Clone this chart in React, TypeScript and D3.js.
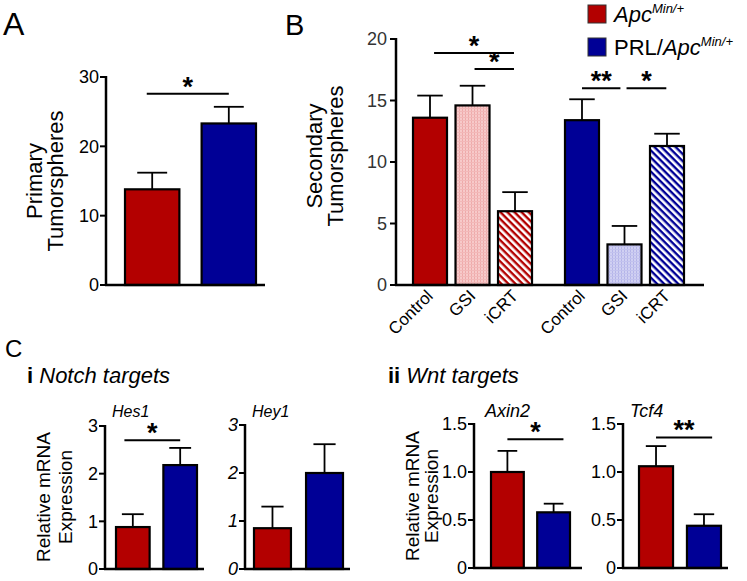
import React from 'react';
import * as d3 from 'd3';

const RED = '#b30000';
const BLUE = '#000096';

// Panel A
const primaryMean = [13.8, 23.3];
const primarySem = [2.4, 2.4];
const primaryTicks = [0, 10, 20, 30];

// Panel B
const conditions = ['Control', 'GSI', 'iCRT'];
const genotypes = ['Apc', 'PRL/Apc'];
const secondaryApc = [13.6, 14.6, 6.0];
const secondaryApcSem = [1.8, 1.6, 1.55];
const secondaryPrl = [13.4, 3.3, 11.3];
const secondaryPrlSem = [1.7, 1.5, 1.0];
const secondaryTicks = [0, 5, 10, 15, 20];

// Panel C
const hes1 = [0.88, 2.18];
const hes1Sem = [0.27, 0.36];
const hey1 = [0.85, 2.0];
const hey1Sem = [0.45, 0.6];
const notchTicks = [0, 1, 2, 3];
const axin2 = [1.0, 0.58];
const axin2Sem = [0.22, 0.09];
const tcf4 = [1.06, 0.44];
const tcf4Sem = [0.21, 0.12];
const wntTicks = [0, 0.5, 1.0, 1.5];

const FONT = "'Liberation Sans', Arial, Helvetica, sans-serif";

type Sig = { a: number; fa: number; b: number; fb: number; y: number; label: string };

const sigA: Sig[] = [{ a: 0, fa: 0.4, b: 1, fb: 0.5, y: 27.6, label: '*' }];
const sigHes1: Sig[] = [{ a: 0, fa: 0.25, b: 1, fb: 0.5, y: 2.7, label: '*' }];
const sigAxin2: Sig[] = [{ a: 0, fa: 0.5, b: 1, fb: 0.8, y: 1.34, label: '*' }];
const sigTcf4: Sig[] = [{ a: 0, fa: 0.5, b: 1, fb: 0.74, y: 1.36, label: '**' }];

function Star({ x, y, label }: { x: number; y: number; label: string }) {
  return (
    <text x={x} y={y + 2} textAnchor="middle" fontSize={27} fontWeight="bold" fontFamily={FONT}>
      {label}
    </text>
  );
}

type SimpleProps = {
  axisX: number; axisEnd: number; yBottom: number; yTop: number;
  barStart: number; barEnd: number; domainMax: number; ticks: number[];
  fmt: (v: number) => string; values: number[]; sems: number[]; fills: string[];
  capFrac: number; sigs: Sig[]; italicTicks?: boolean; tickSize?: number;
};

function SimpleBars(p: SimpleProps) {
  const y = d3.scaleLinear().domain([0, p.domainMax]).range([p.yBottom, p.yTop]);
  const x = d3.scaleBand<number>().domain(d3.range(p.values.length)).range([p.barStart, p.barEnd]).paddingInner(0.29);
  const bw = x.bandwidth();
  return (
    <g>
      {p.values.map((v, i) => {
        const cx = (x(i) as number) + bw / 2;
        const top = y(v + p.sems[i]);
        const cw = bw * p.capFrac;
        return (
          <g key={i}>
            <line x1={cx} x2={cx} y1={y(v)} y2={top} stroke="#000" strokeWidth={1.8} />
            <line x1={cx - cw / 2} x2={cx + cw / 2} y1={top} y2={top} stroke="#000" strokeWidth={1.8} />
            <rect x={x(i)} y={y(v)} width={bw} height={y(0) - y(v)} fill={p.fills[i]} stroke="#000" strokeWidth={2.2} />
          </g>
        );
      })}
      <line x1={p.axisX} x2={p.axisX} y1={y(0) + 1} y2={y(p.domainMax) - 1} stroke="#000" strokeWidth={2.5} />
      <line x1={p.axisX - 1} x2={p.axisEnd} y1={y(0)} y2={y(0)} stroke="#000" strokeWidth={2.5} />
      {p.ticks.map((t) => (
        <g key={t}>
          <line x1={p.axisX - 6} x2={p.axisX} y1={y(t)} y2={y(t)} stroke="#000" strokeWidth={2} />
          <text x={p.axisX - 7} y={y(t)} dy="0.36em" textAnchor="end" fontSize={p.tickSize ?? 18}
            fontStyle={p.italicTicks ? 'italic' : 'normal'} fontFamily={FONT}>{p.fmt(t)}</text>
        </g>
      ))}
      {p.sigs.map((s, k) => {
        const x1 = (x(s.a) as number) + bw * s.fa;
        const x2 = (x(s.b) as number) + bw * s.fb;
        return (
          <g key={k}>
            <line x1={x1} x2={x2} y1={y(s.y)} y2={y(s.y)} stroke="#000" strokeWidth={2} />
            <Star x={(x1 + x2) / 2} y={y(s.y)} label={s.label} />
          </g>
        );
      })}
    </g>
  );
}

function PanelB() {
  const axisX = 396, axisEnd = 704, yBottom = 285, yTop = 39;
  const y = d3.scaleLinear().domain([0, 20]).range([yBottom, yTop]);
  const gx = d3.scaleBand<string>().domain(genotypes).range([413, 684]).paddingInner(0.217);
  const cx = d3.scaleBand<string>().domain(conditions).range([0, gx.bandwidth()]).paddingInner(0.2);
  const bw = cx.bandwidth();
  const fillsApc = [RED, 'url(#dotsPink)', 'url(#hatchRed)'];
  const fillsPrl = [BLUE, 'url(#dotsBlue)', 'url(#hatchBlue)'];
  const data = [
    { g: genotypes[0], vals: secondaryApc, sems: secondaryApcSem, fills: fillsApc },
    { g: genotypes[1], vals: secondaryPrl, sems: secondaryPrlSem, fills: fillsPrl },
  ];
  const bx = (g: string, c: string) => (gx(g) as number) + (cx(c) as number);
  const sigB = [
    { g: genotypes[0], a: 'Control', fa: 0.62, b: 'iCRT', fb: 0.47, y: 18.86, label: '*' },
    { g: genotypes[0], a: 'GSI', fa: 0.56, b: 'iCRT', fb: 0.47, y: 17.56, label: '*' },
    { g: genotypes[1], a: 'Control', fa: 0.5, b: 'GSI', fb: 0.38, y: 16.0, label: '**' },
    { g: genotypes[1], a: 'GSI', fa: 0.56, b: 'iCRT', fb: 0.48, y: 16.0, label: '*' },
  ];
  return (
    <g>
      {data.map((d) => d.vals.map((v, i) => {
        const c = conditions[i];
        const left = bx(d.g, c);
        const mid = left + bw / 2;
        const top = y(v + d.sems[i]);
        const cw = bw * 0.75;
        return (
          <g key={d.g + c}>
            <line x1={mid} x2={mid} y1={y(v)} y2={top} stroke="#000" strokeWidth={1.8} />
            <line x1={mid - cw / 2} x2={mid + cw / 2} y1={top} y2={top} stroke="#000" strokeWidth={1.8} />
            <rect x={left} y={y(v)} width={bw} height={y(0) - y(v)} fill={d.fills[i]} stroke="#000" strokeWidth={2.2} />
            <text transform={`translate(${mid + 4},${yBottom + 12}) rotate(-45)`} textAnchor="end"
              fontSize={17} fontFamily={FONT}>{c}</text>
          </g>
        );
      }))}
      <line x1={axisX} x2={axisX} y1={y(0) + 1} y2={y(20) - 1} stroke="#000" strokeWidth={2.5} />
      <line x1={axisX - 1} x2={axisEnd} y1={y(0)} y2={y(0)} stroke="#000" strokeWidth={2.5} />
      {secondaryTicks.map((t) => (
        <g key={t}>
          <line x1={axisX - 6} x2={axisX} y1={y(t)} y2={y(t)} stroke="#000" strokeWidth={2} />
          <text x={axisX - 9} y={y(t)} dy="0.36em" textAnchor="end" fontSize={18} fill="#333" fontFamily={FONT}>{t}</text>
        </g>
      ))}
      {sigB.map((s, k) => {
        const x1 = bx(s.g, s.a) + bw * s.fa;
        const x2 = bx(s.g, s.b) + bw * s.fb;
        return (
          <g key={k}>
            <line x1={x1} x2={x2} y1={y(s.y)} y2={y(s.y)} stroke="#000" strokeWidth={2} />
            <Star x={(x1 + x2) / 2} y={y(s.y)} label={s.label} />
          </g>
        );
      })}
    </g>
  );
}

function YLabel({ x1, x2, cy, l1, l2, size }: { x1: number; x2: number; cy: number; l1: string; l2: string; size: number }) {
  return (
    <g fontFamily={FONT} fontSize={size}>
      <text transform={`translate(${x1},${cy}) rotate(-90)`} textAnchor="middle">{l1}</text>
      <text transform={`translate(${x2},${cy}) rotate(-90)`} textAnchor="middle">{l2}</text>
    </g>
  );
}

export default function App() {
  const f0 = (v: number) => String(v);
  const f1 = (v: number) => (v === 0 ? '0' : v.toFixed(1));
  return (
    <svg width={747} height={581} style={{ position: 'absolute', left: 0, top: 0, background: '#fff' }} fontFamily={FONT}>
      <defs>
        <pattern id="hatchRed" width={5} height={5} patternUnits="userSpaceOnUse" patternTransform="rotate(45)">
          <rect width={5} height={5} fill="#fff" />
          <rect width={5} height={2.4} fill={RED} />
        </pattern>
        <pattern id="hatchBlue" width={5} height={5} patternUnits="userSpaceOnUse" patternTransform="rotate(45)">
          <rect width={5} height={5} fill="#fff" />
          <rect width={5} height={2.4} fill={BLUE} />
        </pattern>
        <pattern id="dotsPink" width={3} height={3} patternUnits="userSpaceOnUse">
          <rect width={3} height={3} fill="#f7caca" />
          <rect width={1} height={3} fill="#eeaaaa" />
          <rect width={3} height={1} fill="#f2b8b8" />
        </pattern>
        <pattern id="dotsBlue" width={3} height={3} patternUnits="userSpaceOnUse">
          <rect width={3} height={3} fill="#d0d0f2" />
          <rect width={1} height={3} fill="#b4b4e8" />
          <rect width={3} height={1} fill="#c2c2ee" />
        </pattern>
      </defs>

      {/* Panel labels */}
      <text x={3} y={35} fontSize={32}>A</text>
      <text x={285} y={35} fontSize={29}>B</text>
      <text x={5} y={357} fontSize={24}>C</text>

      {/* Panel A */}
      <YLabel x1={42} x2={63} cy={181} l1="Primary" l2="Tumorspheres" size={22} />
      <SimpleBars axisX={106} axisEnd={265} yBottom={285} yTop={77} barStart={125} barEnd={256}
        domainMax={30} ticks={primaryTicks} fmt={f0} values={primaryMean} sems={primarySem}
        fills={[RED, BLUE]} capFrac={0.55} sigs={sigA} />

      {/* Panel B */}
      <YLabel x1={322} x2={343} cy={156} l1="Secondary" l2="Tumorspheres" size={22} />
      <PanelB />

      {/* Legend */}
      <rect x={588} y={5} width={18} height={18} fill={RED} stroke="#333" strokeWidth={1} />
      <text x={614} y={22} fontSize={22} fontStyle="italic">Apc<tspan fontSize={13} dy={-9}>Min/+</tspan></text>
      <rect x={588} y={38} width={18} height={18} fill={BLUE} stroke="#333" strokeWidth={1} />
      <text x={614} y={55} fontSize={22}>PRL/<tspan fontStyle="italic">Apc</tspan><tspan fontStyle="italic" fontSize={13} dy={-9}>Min/+</tspan></text>

      {/* Panel C i */}
      <text x={27} y={383} fontSize={22}><tspan fontWeight="bold">i</tspan> <tspan fontStyle="italic">Notch targets</tspan></text>
      <YLabel x1={50} x2={72} cy={497} l1="Relative mRNA" l2="Expression" size={19} />
      <text x={112} y={417} fontSize={16} fontStyle="italic">Hes1</text>
      <SimpleBars axisX={105} axisEnd={204} yBottom={569} yTop={426} barStart={116} barEnd={197}
        domainMax={3} ticks={notchTicks} fmt={f0} values={hes1} sems={hes1Sem}
        fills={[RED, BLUE]} capFrac={0.65} sigs={sigHes1} />
      <text x={252} y={417} fontSize={16} fontStyle="italic">Hey1</text>
      <SimpleBars axisX={245} axisEnd={350} yBottom={569} yTop={425} barStart={254} barEnd={343}
        domainMax={3} ticks={notchTicks} fmt={f0} values={hey1} sems={hey1Sem}
        fills={[RED, BLUE]} capFrac={0.6} sigs={[]} italicTicks />

      {/* Panel C ii */}
      <text x={388} y={383} fontSize={22}><tspan fontWeight="bold">ii</tspan> <tspan fontStyle="italic">Wnt targets</tspan></text>
      <YLabel x1={419} x2={438} cy={496} l1="Relative mRNA" l2="Expression" size={19} />
      <text x={485} y={417} fontSize={18} fontStyle="italic">Axin2</text>
      <SimpleBars axisX={474} axisEnd={582} yBottom={568} yTop={424} barStart={491} barEnd={570}
        domainMax={1.5} ticks={wntTicks} fmt={f1} values={axin2} sems={axin2Sem}
        fills={[RED, BLUE]} capFrac={0.6} sigs={sigAxin2} tickSize={18} />
      <text x={630} y={417} fontSize={18} fontStyle="italic">Tcf4</text>
      <SimpleBars axisX={623} axisEnd={728} yBottom={568} yTop={424} barStart={639} barEnd={721}
        domainMax={1.5} ticks={wntTicks} fmt={f1} values={tcf4} sems={tcf4Sem}
        fills={[RED, BLUE]} capFrac={0.6} sigs={sigTcf4} tickSize={18} />
    </svg>
  );
}
